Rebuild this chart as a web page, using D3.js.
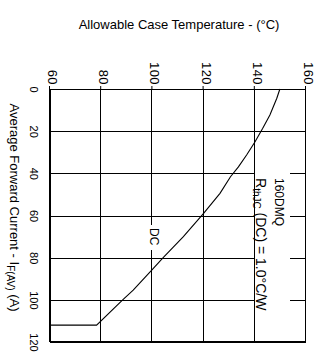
<!DOCTYPE html>
<html lang="en">
<head>
<meta charset="UTF-8">
<title>Allowable Case Temperature vs Average Forward Current</title>
<script src="https://d3js.org/d3.v7.min.js"></script>
<style>
    html, body { margin: 0; padding: 0; background: #fff; overflow: hidden; }
    svg { display: block; font-family: "Liberation Sans", Arial, sans-serif; }
    .grid line { stroke: #000; stroke-width: 1; shape-rendering: crispEdges; }
</style>
</head>
<body>
<div id="chart"></div>
<script>
    // values (chart is drawn rotated 90deg clockwise)
    const tempTicks = [60, 80, 100, 120, 140, 160];
    const currentTicks = [0, 20, 40, 60, 80, 100, 120];
    const dcCurrent = [0, 4.4, 12.3, 18.6, 25, 31.3, 36.9, 41.6, 49.5, 59, 70, 79.9, 85.4, 95.4, 99.8, 112, 112];
    const dcTemp = [149.8, 148.6, 145.9, 143.1, 140.1, 136.8, 133.6, 130.5, 126.4, 120, 112.1, 104.3, 100.1, 92.5, 88.6, 78.2, 60];

    const width = 318, height = 360;
    const W = 253, H = 256;   // plot size in the un-rotated frame

    const svg = d3.select("#chart").append("svg")
        .attr("width", width)
        .attr("height", height);

    // plot drawn upright, then turned 90deg clockwise
    const g = svg.append("g").attr("transform", "translate(306,89) rotate(90)");

    const x = d3.scaleLinear().domain([0, 120]).range([0, W]);
    const y = d3.scaleLinear().domain([60, 160]).range([H, 0]);

    // grid
    const grid = g.append("g").attr("class", "grid");
    grid.selectAll("line.v").data(currentTicks).enter().append("line")
        .attr("x1", d => Math.round(x(d)) + 0.5).attr("x2", d => Math.round(x(d)) + 0.5)
        .attr("y1", 0).attr("y2", H);
    grid.selectAll("line.h").data(tempTicks).enter().append("line")
        .attr("x1", 0).attr("x2", W)
        .attr("y1", d => Math.round(y(d)) + 0.5).attr("y2", d => Math.round(y(d)) + 0.5);

    // white boxes behind the labels
    g.append("rect").attr("x", 84).attr("y", 16).attr("width", 145).attr("height", 35).attr("fill", "#fff");
    g.append("rect").attr("x", 136).attr("y", 147).attr("width", 25).attr("height", 11).attr("fill", "#fff");

    // frame
    g.append("rect").attr("x", 0.5).attr("y", 0.5).attr("width", W - 1).attr("height", H - 1)
        .attr("fill", "none").attr("stroke", "#000").attr("shape-rendering", "crispEdges");

    // temperature ticks (end up on top)
    const yAxis = g.append("g")
        .call(d3.axisLeft(y).tickValues(tempTicks).tickSize(3).tickFormat(""));
    yAxis.select(".domain").remove();
    yAxis.selectAll("line").attr("stroke", "#000");

    // temperature tick labels, placed in page coordinates
    svg.append("g").selectAll("text")
        .data(tempTicks)
        .enter().append("text")
        .attr("transform", d => `translate(${306 - Math.round(y(d)) - 2.5},85) rotate(90)`)
        .attr("text-anchor", "end")
        .attr("fill", "#000")
        .style("font-size", "13px")
        .style("letter-spacing", "0.4px")
        .text(d => d);

    // current axis (ends up on the left)
    const xAxis = g.append("g")
        .attr("transform", `translate(0,${H})`)
        .call(d3.axisBottom(x).tickValues(currentTicks).tickSize(0));
    xAxis.select(".domain").remove();
    xAxis.selectAll("text")
        .attr("fill", "#000")
        .attr("y", 20)
        .attr("dy", 0)
        .style("font-size", "11px");

    // DC curve
    const pts = dcCurrent.map((c, i) => [c, dcTemp[i]]);
    g.append("path")
        .datum(pts)
        .attr("fill", "none")
        .attr("stroke", "#000")
        .attr("stroke-width", 1.1)
        .attr("d", d3.line().x(d => x(d[0])).y(d => y(d[1])));

    // axis titles
    g.append("text")
        .attr("transform", `translate(-60.5,${H / 2 - 1}) rotate(-90)`)
        .attr("text-anchor", "middle")
        .style("font-size", "13px")
        .text("Allowable Case Temperature - (°C)");

    const xt = g.append("text")
        .attr("x", 118.5)
        .attr("y", H + 40.5)
        .attr("text-anchor", "middle")
        .style("font-size", "13px");
    xt.append("tspan").text("Average Forward Current - I");
    xt.append("tspan").attr("dy", 3).style("font-size", "10px").text("F(AV)");
    xt.append("tspan").attr("dy", -3).text(" (A)");

    // annotations
    g.append("text").attr("x", 89).attr("y", 31).style("font-size", "12px").text("160DMQ");
    const rt = g.append("text").attr("x", 89).attr("y", 50).style("font-size", "14px");
    rt.append("tspan").text("R");
    rt.append("tspan").attr("dy", 3).style("font-size", "10px").text("thJC");
    rt.append("tspan").attr("dy", -3).text(" (DC) = 1.0°C/W");

    g.append("text").attr("x", 139).attr("y", 156).style("font-size", "12px").text("DC");
</script>
</body>
</html>
